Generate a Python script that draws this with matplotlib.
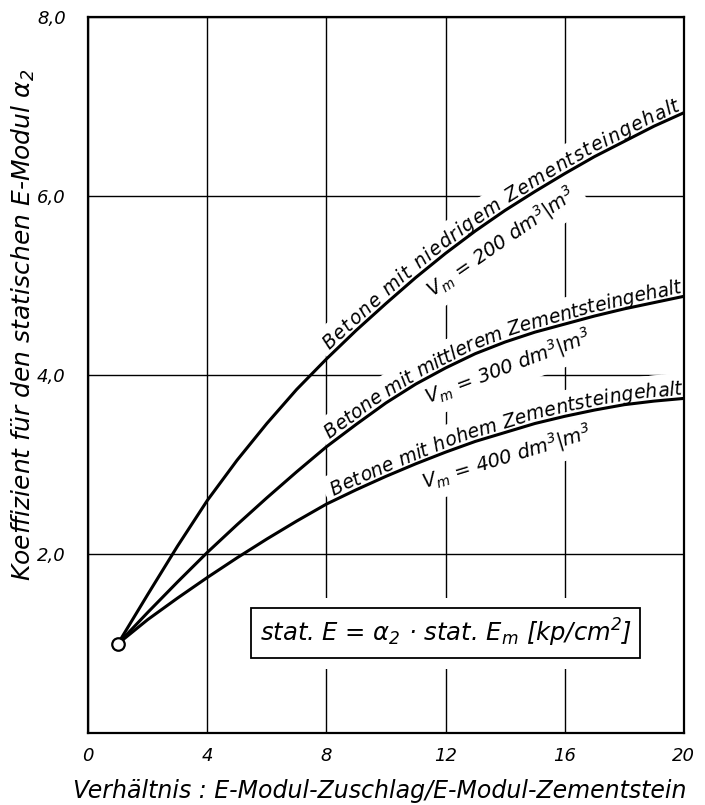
import numpy as np
import matplotlib
matplotlib.use("Agg")
import matplotlib.pyplot as plt
from matplotlib.font_manager import FontProperties, findfont
from matplotlib.ft2font import FT2Font

# ratio E-Modul Zuschlag / E-Modul Zementstein
x = [1, 2, 3, 4, 5, 6, 7, 8, 9, 10, 11, 12, 13, 14, 15, 16, 17, 18, 19, 20]
# coefficient alpha_2 for the three cement paste contents
low_cement = [1.0, 1.55, 2.09, 2.6, 3.05, 3.46, 3.84, 4.18, 4.5, 4.8, 5.09, 5.36,
              5.61, 5.84, 6.05, 6.25, 6.44, 6.61, 6.78, 6.93]
mid_cement = [1.0, 1.35, 1.69, 2.02, 2.33, 2.63, 2.92, 3.2, 3.45, 3.69, 3.9, 4.08,
              4.24, 4.37, 4.48, 4.57, 4.66, 4.74, 4.81, 4.88]
high_cement = [1.0, 1.27, 1.51, 1.74, 1.96, 2.17, 2.37, 2.56, 2.72, 2.87, 3.01, 3.14,
               3.26, 3.36, 3.46, 3.54, 3.61, 3.67, 3.71, 3.74]

curve_names = ["Betone mit niedrigem Zementsteingehalt",
               "Betone mit mittlerem Zementsteingehalt",
               "Betone mit hohem Zementsteingehalt"]
vm_labels = [r"V$_m$ = 200 dm$^3$|m$^3$",
             r"V$_m$ = 300 dm$^3$|m$^3$",
             r"V$_m$ = 400 dm$^3$|m$^3$"]

xticks = [0, 4, 8, 12, 16, 20]
yticks = [2, 4, 6, 8]
ytick_labels = ["2,0", "4,0", "6,0", "8,0"]

plt.rcParams['font.family'] = 'DejaVu Sans'
plt.rcParams['font.style'] = 'italic'
plt.rcParams['mathtext.fontset'] = 'dejavusans'
plt.rcParams['mathtext.default'] = 'it'

fig = plt.figure(figsize=(7.05, 8.05), dpi=100)
ax = fig.add_axes([0.125, 0.089, 0.845, 0.89])
ax.set_xlim(0, 20)
ax.set_ylim(0, 8)
ax.set_xticks(xticks)
ax.set_xticklabels([str(t) for t in xticks], fontsize=13, style='italic')
ax.set_yticks(yticks)
ax.set_yticklabels(ytick_labels, fontsize=13, style='italic')
ax.tick_params(axis='x', length=0, pad=10)
ax.tick_params(axis='y', length=0, pad=16)
ax.grid(True, color='black', lw=1.0)
ax.set_axisbelow(True)
for sp in ax.spines.values():
    sp.set_linewidth(1.6)

ax.set_xlabel("Verhältnis : E-Modul-Zuschlag/E-Modul-Zementstein", fontsize=17)
ax.xaxis.set_label_coords(0.49, -0.064)
ax.set_ylabel(r"Koeffizient für den statischen E-Modul $\alpha_2$", fontsize=18)
ax.yaxis.set_label_coords(-0.085, 0.57)

for ys in (low_cement, mid_cement, high_cement):
    ax.plot(x, ys, color='black', lw=2.2, zorder=3, solid_capstyle='round')
ax.plot([x[0]], [low_cement[0]], 'o', ms=9, mfc='white', mec='black', mew=1.6, zorder=5)

fig.canvas.draw()


def arc_data(xs, ys):
    pts = ax.transData.transform(np.column_stack([xs, ys]))
    s = np.concatenate([[0], np.cumsum(np.hypot(np.diff(pts[:, 0]), np.diff(pts[:, 1])))])
    return pts, s


def point_at(pts, s, sc, offset):
    px = np.interp(sc, s, pts[:, 0])
    py = np.interp(sc, s, pts[:, 1])
    x1, y1 = np.interp(sc - 12, s, pts[:, 0]), np.interp(sc - 12, s, pts[:, 1])
    x2, y2 = np.interp(sc + 12, s, pts[:, 0]), np.interp(sc + 12, s, pts[:, 1])
    ang = np.arctan2(y2 - y1, x2 - x1)
    px += -np.sin(ang) * offset
    py += np.cos(ang) * offset
    dx, dy = ax.transData.inverted().transform((px, py))
    return dx, dy, np.degrees(ang)


def text_on_curve(xs, ys, text, x_start, x_end, offset, size):
    # letters placed one by one so the label follows the bend of the curve
    pts, s = arc_data(xs, ys)
    font = FT2Font(findfont(FontProperties(family='DejaVu Sans', style='italic')))
    font.set_size(size, fig.dpi)
    adv = [font.load_char(ord(c)).linearHoriAdvance / 65536 for c in text]
    s0, s1 = np.interp(x_start, xs, s), np.interp(x_end, xs, s)
    extra = (s1 - s0 - sum(adv)) / (len(text) - 1)
    pos = s0
    for c, a in zip(text, adv):
        dx, dy, rot = point_at(pts, s, pos + a / 2, offset)
        if c != ' ':
            kw = dict(ha='center', va='baseline', rotation=rot, rotation_mode='anchor', fontsize=size)
            # white patch first so the grid is broken behind the lettering
            ax.text(dx, dy, c, color='white', zorder=1.5,
                    bbox=dict(boxstyle='square,pad=0.35', fc='white', ec='none'), **kw)
            ax.text(dx, dy, c, color='black', zorder=4, **kw)
        pos += a + extra


def text_below(xs, ys, text, x_c, offset, size):
    pts, s = arc_data(xs, ys)
    dx, dy, rot = point_at(pts, s, np.interp(x_c, xs, s), -offset)
    kw = dict(ha='center', va='center', rotation=rot, rotation_mode='anchor', fontsize=size)
    ax.text(dx, dy, text, color='white', zorder=1.5,
            bbox=dict(boxstyle='square,pad=0.4', fc='white', ec='none'), **kw)
    ax.text(dx, dy, text, color='black', zorder=4, **kw)


starts = [8.2, 8.2, 8.3]
vm_pos = [13.4, 13.8, 13.8]
for ys, name, vm, x0, xc in zip((low_cement, mid_cement, high_cement), curve_names,
                                vm_labels, starts, vm_pos):
    text_on_curve(x, ys, name, x0, 19.95, 4, 13.5)
    text_below(x, ys, vm, xc, 24, 14)

formula = r"stat. E = $\alpha_2$ · stat. E$_m$ [kp/cm$^2$]"
ax.text(12, 1.12, formula, ha='center', va='center', fontsize=17.5, color='white', zorder=1.5,
        bbox=dict(boxstyle='square,pad=0.8', fc='white', ec='none'))
ax.text(12, 1.12, formula, ha='center', va='center', fontsize=17.5, zorder=4,
        bbox=dict(boxstyle='square,pad=0.35', fc='white', ec='black', lw=1.3))

fig.savefig("out.png", dpi=100)
